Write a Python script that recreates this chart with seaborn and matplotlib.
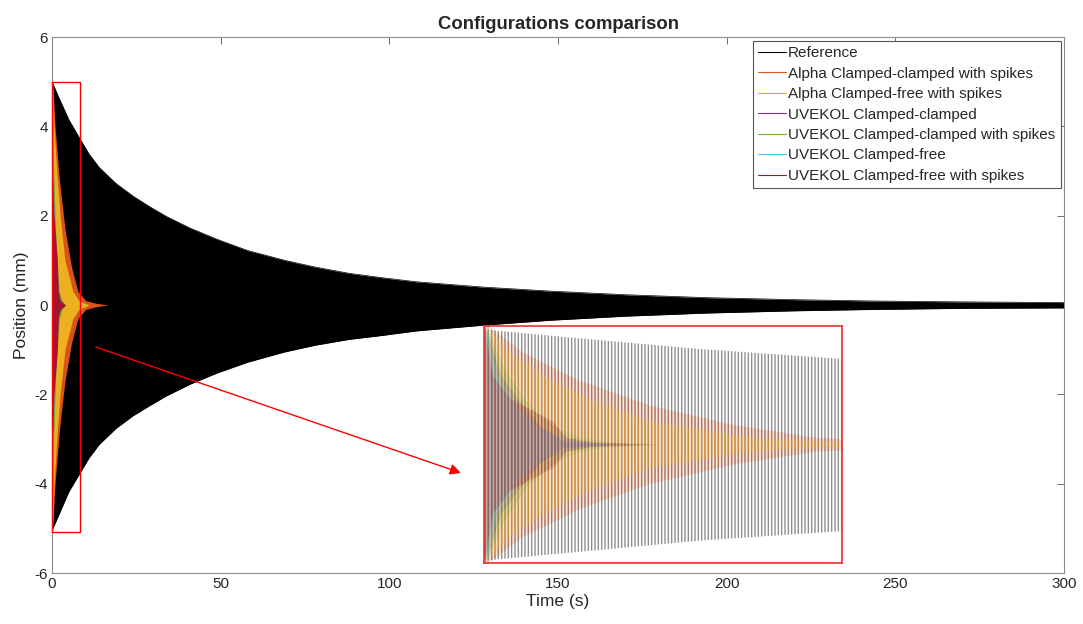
import numpy as np
import pandas as pd
import matplotlib
matplotlib.use("Agg")
import matplotlib.pyplot as plt
import seaborn as sns

# Envelope of each decaying oscillation (position in mm)
t_ref = [0, 2, 5, 8.3, 11, 14, 19, 24, 29, 34, 41, 49, 58, 69, 78, 88, 98, 108, 128, 148, 170, 194, 220, 243, 270, 300]
ref_top = [5.0, 4.65, 4.15, 3.72, 3.38, 3.08, 2.72, 2.44, 2.2, 1.98, 1.72, 1.47, 1.22, 1.0, 0.85, 0.71, 0.61, 0.52, 0.40, 0.31, 0.23, 0.165, 0.12, 0.09, 0.07, 0.055]
ref_bottom = [-5.05, -4.7, -4.18, -3.76, -3.42, -3.12, -2.76, -2.48, -2.25, -2.03, -1.77, -1.52, -1.28, -1.05, -0.9, -0.77, -0.68, -0.58, -0.45, -0.34, -0.25, -0.18, -0.13, -0.1, -0.075, -0.065]

t_alpha_cc = [0, 0.9, 2.2, 3.85, 5.8, 7.7, 10, 13, 16.5]
amp_alpha_cc = [5.3, 4.0, 2.8, 1.7, 0.85, 0.3, 0.1, 0.04, 0.0]

t_alpha_cf = [0, 0.6, 1.4, 2.4, 3.85, 6.2, 8, 11]
amp_alpha_cf = [5.2, 4.0, 3.0, 2.0, 1.0, 0.3, 0.1, 0.0]

t_uv_cc = [0, 0.4, 0.83, 1.3, 1.83, 2.5, 3.5]
amp_uv_cc = [5.2, 3.0, 1.9, 0.8, 0.15, 0.05, 0.0]

t_uv_cc_sp = [0, 0.5, 1, 1.6, 2.2, 3, 4]
amp_uv_cc_sp = [5.3, 3.2, 1.8, 0.8, 0.3, 0.1, 0.0]

t_uv_cf = [0, 0.3, 0.8, 1.4, 2, 3]
amp_uv_cf = [5.9, 3.0, 1.5, 0.6, 0.2, 0.0]

t_uv_cf_sp = [0, 0.2, 0.6, 1.6, 1.9, 2.5, 4]
amp_uv_cf_sp = [5.2, 3.0, 2.0, 1.0, 0.3, 0.1, 0.0]

series_names = ["Reference", "Alpha Clamped-clamped with spikes", "Alpha Clamped-free with spikes",
                "UVEKOL Clamped-clamped", "UVEKOL Clamped-clamped with spikes",
                "UVEKOL Clamped-free", "UVEKOL Clamped-free with spikes"]
colors = ["#000000", "#D95319", "#EDB120", "#7E2F8E", "#77AC30", "#4DBEEE", "#A2142F"]

envelopes = [
    (t_ref, ref_top, ref_bottom),
    (t_alpha_cc, amp_alpha_cc, [-a for a in amp_alpha_cc]),
    (t_alpha_cf, amp_alpha_cf, [-a for a in amp_alpha_cf]),
    (t_uv_cc, amp_uv_cc, [-a for a in amp_uv_cc]),
    (t_uv_cc_sp, amp_uv_cc_sp, [-a for a in amp_uv_cc_sp]),
    (t_uv_cf, amp_uv_cf, [-a for a in amp_uv_cf]),
    (t_uv_cf_sp, amp_uv_cf_sp, [-a for a in amp_uv_cf_sp]),
]

# long table: upper and lower edge of each envelope
rows = []
for name, (t, top, bot) in zip(series_names, envelopes):
    for ti, v in zip(t, top):
        rows.append((name, "top", ti, v))
    for ti, v in zip(t, bot):
        rows.append((name, "bottom", ti, v))
df = pd.DataFrame(rows, columns=["series", "edge", "time", "pos"])

sns.set_style("white")
plt.rcParams["font.family"] = ["Liberation Sans", "DejaVu Sans"]
plt.rcParams["axes.unicode_minus"] = False

fig = plt.figure(figsize=(10.83, 6.24), dpi=100)
ax = fig.add_axes([0.048, 0.0817, 0.9345, 0.859])

palette = dict(zip(series_names, colors))
sns.lineplot(data=df, x="time", y="pos", hue="series", hue_order=series_names,
             units="edge", estimator=None, sort=False, palette=palette,
             linewidth=0.5, ax=ax)
for name, (t, top, bot), c in zip(series_names, envelopes, colors):
    ax.fill_between(t, bot, top, color=c, linewidth=0, zorder=2)

ax.set_xlim(0, 300)
ax.set_ylim(-6, 6)
ax.set_xticks(range(0, 301, 50))
ax.set_yticks(range(-6, 7, 2))
ax.tick_params(direction="in", length=5, width=0.6, color="#555555", labelsize=11,
               top=True, right=True, labelcolor="#262626", pad=3)
for s in ax.spines.values():
    s.set_color("#8c8c8c")
    s.set_linewidth(0.8)
ax.set_xlabel("Time (s)", fontsize=12.5, color="#262626", labelpad=2)
ax.set_ylabel("Position (mm)", fontsize=12.5, color="#262626", labelpad=4)
ax.set_title("Configurations comparison", fontsize=13.3, fontweight="bold", pad=6)

leg = ax.legend(loc="upper right", bbox_to_anchor=(0.9965, 0.9925), borderaxespad=0,
                fontsize=11, frameon=True, fancybox=False, edgecolor="#555555",
                framealpha=1, handlelength=1.8, handletextpad=0.15, labelspacing=0.42,
                borderpad=0.35)
leg.get_frame().set_linewidth(0.8)
for h in leg.get_lines():
    h.set_linewidth(0.8)

# zoom box and arrow
ax.plot([0, 8.3, 8.3, 0, 0], [5.0, 5.0, -5.08, -5.08, 5.0], color="red", linewidth=1, zorder=5,
        clip_on=False)
ax.annotate("", xy=(122, -3.78), xytext=(12.2, -0.92),
            arrowprops=dict(arrowstyle="-|>", color="red", lw=1, mutation_scale=16), zorder=5)

# inset: the first seconds, zoomed
ins = fig.add_axes([0.447, 0.0978, 0.3306, 0.3798])
ins.set_xlim(0, 8.3)
ins.set_ylim(-5.15, 5.15)
ins.set_xticks([])
ins.set_yticks([])
for s in ins.spines.values():
    s.set_color("#e8322e")
    s.set_linewidth(1.2)
plt.rcParams["hatch.linewidth"] = 1.0
ins.fill_between(t_ref, ref_bottom, ref_top, facecolor="none", edgecolor="#8f8f8f",
                 hatch="|||||", linewidth=0)
for name, (t, top, bot), c in list(zip(series_names, envelopes, colors))[1:]:
    ins.fill_between(t, bot, top, color=c, alpha=0.12, linewidth=0)
    ins.fill_between(t, bot, top, facecolor="none", edgecolor=c, hatch="|||||",
                     linewidth=0, alpha=0.35)

fig.savefig("out.png", dpi=100)
